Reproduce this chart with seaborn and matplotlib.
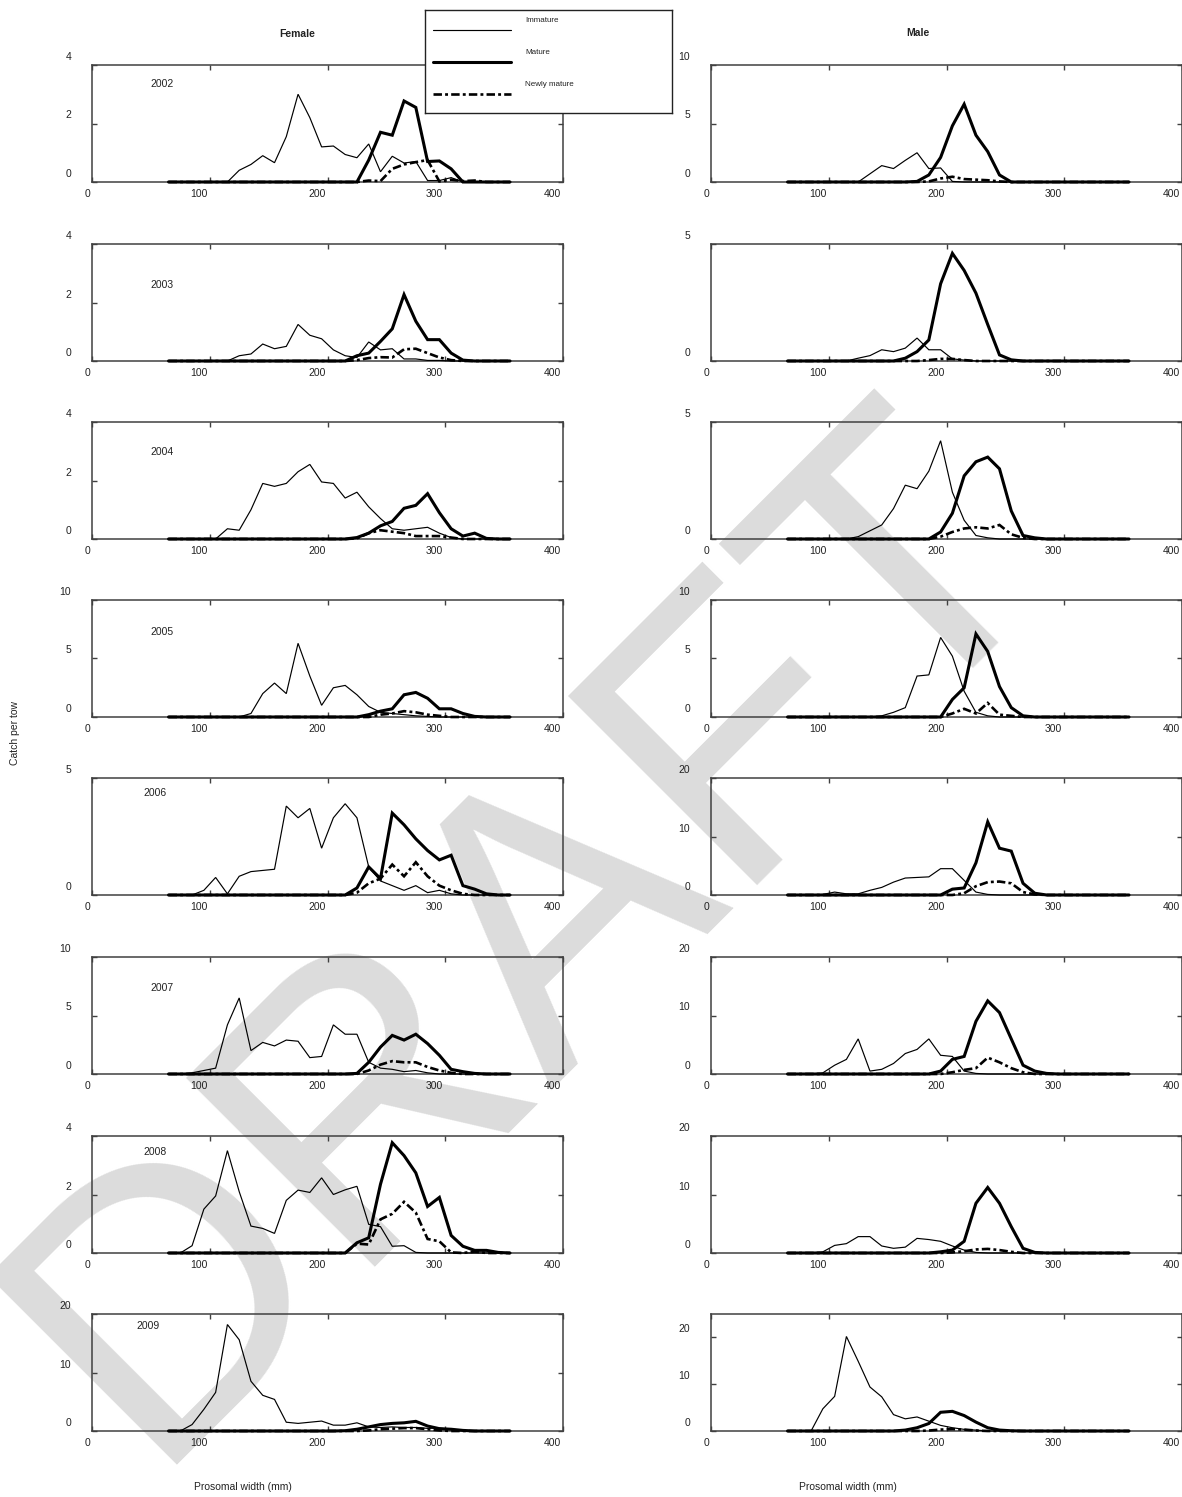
import matplotlib
matplotlib.use("Agg")
import matplotlib.pyplot as plt
import matplotlib.transforms as mtransforms
import seaborn as sns

sns.set_style("ticks")
plt.rcParams['font.family'] = ['Liberation Sans', 'DejaVu Sans']

# ---------------------------------------------------------------- data
# Prosomal width bins (mm)
WIDTH_MM = [65, 75, 85, 95, 105, 115, 125, 135, 145, 155,
            165, 175, 185, 195, 205, 215, 225, 235, 245, 255,
            265, 275, 285, 295, 305, 315, 325, 335, 345, 355]

YEARS = [2002, 2003, 2004, 2005, 2006, 2007, 2008, 2009]

# Female catch per tow by stage
F2002_IMM = [0] * 6 + [0.4, 0.6, 0.9, 0.66, 1.55, 3.0, 2.2, 1.2, 1.23, 0.94, 0.83, 1.3, 0.35, 0.88, 0.65, 0.7, 0.05, 0.05, 0.15] + [0] * 5
F2002_MAT = [0] * 17 + [0.75, 1.7, 1.6, 2.77, 2.55, 0.7, 0.72, 0.45] + [0] * 5
F2002_NEW = [0] * 17 + [0.05, 0.03, 0.45, 0.6, 0.68, 0.75, 0.02, 0.08, 0.03, 0.05] + [0] * 3

F2003_IMM = [0] * 6 + [0.18, 0.24, 0.58, 0.42, 0.5, 1.25, 0.88, 0.76, 0.38, 0.18, 0.12, 0.65, 0.38, 0.42, 0.07, 0.07, 0.02, 0.02] + [0] * 6
F2003_MAT = [0] * 16 + [0.18, 0.27, 0.67, 1.1, 2.27, 1.36, 0.73, 0.73, 0.27, 0.03] + [0] * 4
F2003_NEW = [0] * 16 + [0.03, 0.1, 0.13, 0.12, 0.4, 0.42, 0.27, 0.12, 0.03] + [0] * 5

F2004_IMM = [0] * 5 + [0.35, 0.3, 1.0, 1.9, 1.8, 1.9, 2.3, 2.55, 1.95, 1.9, 1.4, 1.6, 1.1, 0.7, 0.35, 0.3, 0.35, 0.4, 0.2, 0.05] + [0] * 5
F2004_MAT = [0] * 16 + [0.05, 0.2, 0.45, 0.6, 1.05, 1.15, 1.55, 0.9, 0.35, 0.1, 0.2, 0.02] + [0] * 2
F2004_NEW = [0] * 16 + [0.02, 0.2, 0.3, 0.25, 0.2, 0.1, 0.1, 0.1, 0.05] + [0] * 5

F2005_IMM = [0] * 7 + [0.3, 2.0, 2.9, 2.0, 6.3, 3.5, 1.0, 2.5, 2.7, 1.9, 0.9, 0.4, 0.3, 0.2, 0.1, 0.05] + [0] * 7
F2005_MAT = [0] * 17 + [0.2, 0.5, 0.7, 1.9, 2.1, 1.6, 0.7, 0.7, 0.3, 0.05] + [0] * 3
F2005_NEW = [0] * 18 + [0.2, 0.3, 0.5, 0.4, 0.2, 0.1] + [0] * 6

F2006_IMM = [0] * 3 + [0.2, 0.75, 0.05, 0.8, 1.0, 1.05, 1.1, 3.8, 3.3, 3.7, 2.0, 3.3, 3.9, 3.3, 1.2, 0.6, 0.4, 0.2, 0.4, 0.1, 0.2, 0.05] + [0] * 5
F2006_MAT = [0] * 16 + [0.3, 1.2, 0.7, 3.5, 3.0, 2.4, 1.9, 1.5, 1.7, 0.4, 0.25, 0.05] + [0] * 2
F2006_NEW = [0] * 16 + [0.1, 0.5, 0.7, 1.3, 0.8, 1.4, 0.8, 0.4, 0.2, 0.05] + [0] * 4

F2007_IMM = [0] * 2 + [0.1, 0.3, 0.5, 4.2, 6.5, 2.0, 2.7, 2.4, 2.9, 2.8, 1.4, 1.5, 4.2, 3.4, 3.4, 1.0, 0.5, 0.4, 0.2, 0.3, 0.1] + [0] * 7
F2007_MAT = [0] * 16 + [0.05, 1.0, 2.3, 3.3, 2.9, 3.4, 2.6, 1.6, 0.4, 0.2, 0.05] + [0] * 3
F2007_NEW = [0] * 17 + [0.3, 0.8, 1.1, 1.0, 1.0, 0.6, 0.3, 0.1] + [0] * 5

F2008_IMM = [0] * 2 + [0.25, 1.5, 1.95, 3.5, 2.1, 0.92, 0.84, 0.67, 1.8, 2.15, 2.07, 2.57, 2.0, 2.16, 2.28, 0.98, 0.9, 0.23, 0.25, 0.02] + [0] * 8
F2008_MAT = [0] * 16 + [0.35, 0.52, 2.35, 3.77, 3.33, 2.74, 1.59, 1.9, 0.6, 0.23, 0.09, 0.09, 0.02] + [0] * 1
F2008_NEW = [0] * 16 + [0.32, 0.29, 1.15, 1.34, 1.75, 1.38, 0.48, 0.4, 0.02, 0, 0.05] + [0] * 3

F2009_IMM = [0] * 2 + [1.1, 3.7, 6.6, 18.2, 15.6, 8.5, 6.1, 5.4, 1.5, 1.3, 1.5, 1.7, 1.0, 1.0, 1.4, 0.7, 0.6, 0.7, 0.6, 0.6, 0.45, 0.5, 0.3, 0.1] + [0] * 4
F2009_MAT = [0] * 15 + [0.05, 0.3, 0.7, 1.1, 1.3, 1.4, 1.65, 0.85, 0.4, 0.3, 0.1] + [0] * 4
F2009_NEW = [0] * 17 + [0.1, 0.3, 0.4, 0.5, 0.5, 0.3, 0.1] + [0] * 6

# Male catch per tow by stage
M2002_IMM = [0] * 7 + [0.7, 1.4, 1.15, 1.85, 2.5, 1.15, 1.2, 0.05] + [0] * 15
M2002_MAT = [0] * 11 + [0.05, 0.6, 2.1, 4.8, 6.65, 4.0, 2.6, 0.6] + [0] * 11
M2002_NEW = [0] * 12 + [0.05, 0.3, 0.45, 0.25, 0.2, 0.15, 0.05] + [0] * 11

M2003_IMM = [0] * 6 + [0.12, 0.23, 0.48, 0.4, 0.55, 0.98, 0.48, 0.48, 0.09, 0.04] + [0] * 14
M2003_MAT = [0] * 10 + [0.12, 0.4, 0.9, 3.3, 4.6, 3.87, 2.9, 1.56, 0.26, 0.05] + [0] * 10
M2003_NEW = [0] * 12 + [0.04, 0.09, 0.09, 0.04] + [0] * 14

M2004_IMM = [0] * 6 + [0.1, 0.35, 0.6, 1.3, 2.3, 2.15, 2.9, 4.2, 2.0, 0.8, 0.15, 0.05] + [0] * 12
M2004_MAT = [0] * 13 + [0.3, 1.1, 2.7, 3.3, 3.5, 3.0, 1.2, 0.15, 0.05] + [0] * 8
M2004_NEW = [0] * 13 + [0.1, 0.3, 0.45, 0.5, 0.45, 0.6, 0.2, 0.05] + [0] * 9

M2005_IMM = [0] * 8 + [0.1, 0.4, 0.8, 3.5, 3.6, 6.8, 5.2, 2.2, 0.4, 0.1] + [0] * 12
M2005_MAT = [0] * 14 + [1.5, 2.5, 7.1, 5.6, 2.6, 0.8, 0.1] + [0] * 9
M2005_NEW = [0] * 14 + [0.3, 0.7, 0.3, 1.2, 0.2, 0.1] + [0] * 10

M2006_IMM = [0] * 3 + [0.1, 0.5, 0.2, 0.2, 0.8, 1.3, 2.2, 2.9, 3.0, 3.1, 4.5, 4.5, 2.5, 0.5, 0.1] + [0] * 12
M2006_MAT = [0] * 14 + [1.0, 1.2, 5.5, 12.5, 8.0, 7.5, 2.0, 0.3] + [0] * 8
M2006_NEW = [0] * 15 + [0.3, 1.5, 2.2, 2.3, 2.0, 0.5, 0.1] + [0] * 8

M2007_IMM = [0] * 3 + [0.2, 1.5, 2.5, 6.0, 0.5, 0.8, 1.8, 3.5, 4.2, 6.0, 3.2, 3.0, 0.5, 0.1] + [0] * 13
M2007_MAT = [0] * 13 + [0.5, 2.5, 3.0, 9.0, 12.5, 10.5, 6.0, 1.5, 0.5, 0.1] + [0] * 7
M2007_NEW = [0] * 14 + [0.3, 0.7, 1.0, 2.8, 2.0, 1.0, 0.3] + [0] * 9

M2008_IMM = [0] * 3 + [0.2, 1.3, 1.6, 2.8, 2.8, 1.2, 0.8, 1.0, 2.5, 2.3, 2.0, 1.2, 0.5, 0.1] + [0] * 13
M2008_MAT = [0] * 13 + [0.2, 0.5, 2.0, 8.5, 11.2, 8.5, 4.5, 0.8, 0.1] + [0] * 8
M2008_NEW = [0] * 14 + [0.1, 0.3, 0.6, 0.7, 0.5, 0.2] + [0] * 10

M2009_IMM = [0] * 3 + [4.75, 7.4, 20.2, 14.9, 9.4, 7.3, 3.5, 2.6, 3.0, 2.1, 1.2, 0.7, 0.35, 0.2] + [0] * 13
M2009_MAT = [0] * 10 + [0.2, 0.7, 1.6, 4.0, 4.2, 3.3, 1.9, 0.7, 0.2, 0.05] + [0] * 10
M2009_NEW = [0] * 12 + [0.1, 0.3, 0.4, 0.3, 0.1] + [0] * 13

FEMALE = [(F2002_IMM, F2002_MAT, F2002_NEW), (F2003_IMM, F2003_MAT, F2003_NEW),
          (F2004_IMM, F2004_MAT, F2004_NEW), (F2005_IMM, F2005_MAT, F2005_NEW),
          (F2006_IMM, F2006_MAT, F2006_NEW), (F2007_IMM, F2007_MAT, F2007_NEW),
          (F2008_IMM, F2008_MAT, F2008_NEW), (F2009_IMM, F2009_MAT, F2009_NEW)]
MALE = [(M2002_IMM, M2002_MAT, M2002_NEW), (M2003_IMM, M2003_MAT, M2003_NEW),
        (M2004_IMM, M2004_MAT, M2004_NEW), (M2005_IMM, M2005_MAT, M2005_NEW),
        (M2006_IMM, M2006_MAT, M2006_NEW), (M2007_IMM, M2007_MAT, M2007_NEW),
        (M2008_IMM, M2008_MAT, M2008_NEW), (M2009_IMM, M2009_MAT, M2009_NEW)]

# y-axis limits and tick values per panel
FEMALE_YMAX = [4, 4, 4, 10, 5, 10, 4, 20]
FEMALE_YTICKS = [[0, 2, 4], [0, 2, 4], [0, 2, 4], [0, 5, 10], [0, 5], [0, 5, 10], [0, 2, 4], [0, 10, 20]]
MALE_YMAX = [10, 5, 5, 10, 20, 20, 20, 25]
MALE_YTICKS = [[0, 5, 10], [0, 5], [0, 5], [0, 5, 10], [0, 10, 20], [0, 10, 20], [0, 10, 20], [0, 10, 20]]

X_TICKS = [0, 100, 200, 300, 400]
STAGES = ["Immature", "Mature", "Newly mature"]

# ---------------------------------------------------------------- layout
W, H = 1182, 1497
DPI = 100
fig = plt.figure(figsize=(W / DPI, H / DPI), dpi=DPI)

ROW_TOP = [65, 244, 422, 600, 778, 957, 1136, 1314]
PANEL_H = 117
PANEL_W = 471
COL_LEFT = [92, 711]

# year labels (pixel positions)
YEAR_POS = [(162, 84), (162, 285), (162, 452), (162, 632),
            (155, 793), (162, 988), (155, 1152), (148, 1326)]

TXT = '#222222'
SPINE = '#404040'
FS = 7.5

STYLE = {
    "Immature": dict(lw=0.85, ls='-'),
    "Mature": dict(lw=2.2, ls='-'),
    "Newly mature": dict(lw=1.9, ls=(0, (3.2, 1.2, 1.1, 1.2))),
}


def px_axes(left, top, width, height):
    return fig.add_axes([left / W, 1 - (top + height) / H, width / W, height / H])


def draw_panel(left, top, series, ymax, yticks):
    ax = px_axes(left, top, PANEL_W, PANEL_H)
    ax.patch.set_alpha(0)
    for stage, vals in zip(STAGES, series):
        st = STYLE[stage]
        sns.lineplot(x=WIDTH_MM, y=vals, ax=ax, color='black', linewidth=st['lw'],
                     linestyle=st['ls'], estimator=None, sort=False, clip_on=False,
                     solid_joinstyle='miter', dash_joinstyle='miter', zorder=3)
    ax.set_xlim(0, 400)
    ax.set_ylim(0, ymax)
    ax.set_xticks(X_TICKS)
    ax.set_yticks(yticks)
    ax.set_xlabel('')
    ax.set_ylabel('')
    for sp in ax.spines.values():
        sp.set_color(SPINE)
        sp.set_linewidth(1.1)
    ax.tick_params(axis='both', direction='in', top=True, right=True, length=3.5,
                   width=1.0, color=SPINE, labelcolor=TXT, labelsize=FS)
    ax.tick_params(axis='x', pad=5)
    ax.tick_params(axis='y', pad=15)
    dx = mtransforms.ScaledTranslation(-2 / DPI, 0, fig.dpi_scale_trans)
    for lab in ax.get_xticklabels():
        lab.set_ha('right')
        lab.set_transform(lab.get_transform() + dx)
    dy = mtransforms.ScaledTranslation(0, 3 / DPI, fig.dpi_scale_trans)
    for lab in ax.get_yticklabels():
        lab.set_va('bottom')
        lab.set_transform(lab.get_transform() + dy)
    return ax


for i, year in enumerate(YEARS):
    draw_panel(COL_LEFT[0], ROW_TOP[i], FEMALE[i], FEMALE_YMAX[i], FEMALE_YTICKS[i])
    draw_panel(COL_LEFT[1], ROW_TOP[i], MALE[i], MALE_YMAX[i], MALE_YTICKS[i])
    yx, yy = YEAR_POS[i]
    fig.text(yx / W, 1 - yy / H, str(year), ha='center', va='center', size=FS, color=TXT)

# column titles and axis labels
fig.text(297 / W, 1 - 34 / H, 'Female', ha='center', va='center', size=FS, weight='bold', color=TXT)
fig.text(918 / W, 1 - 33 / H, 'Male', ha='center', va='center', size=FS, weight='bold', color=TXT)
fig.text(15 / W, 1 - 733 / H, 'Catch per tow', rotation=90, ha='center', va='center', size=FS, color=TXT)
fig.text(243 / W, 1 - 1487 / H, 'Prosomal width (mm)', ha='center', va='center', size=FS, color=TXT)
fig.text(848 / W, 1 - 1487 / H, 'Prosomal width (mm)', ha='center', va='center', size=FS, color=TXT)

# stage key
key = px_axes(425, 10, 247, 103)
key.set_zorder(5)
key.set_facecolor('white')
key.set_xlim(0, 247)
key.set_ylim(103, 0)
key.set_xticks([])
key.set_yticks([])
for sp in key.spines.values():
    sp.set_color('#222222')
    sp.set_linewidth(1.0)
for stage, (ty, ly) in zip(STAGES, [(11, 20), (43, 52), (75, 84)]):
    st = STYLE[stage]
    key.plot([8, 86], [ly, ly], color='black', lw=st['lw'], ls=st['ls'])
    key.text(100, ty, stage, ha='left', va='center', size=5.8, color=TXT)

# watermark behind the panels
fig.text(0.45, 0.375, 'DRAFT', rotation=45, ha='center', va='center',
         fontsize=280, color='#dcdcdc', zorder=-1)

fig.savefig('out.png', dpi=DPI)
